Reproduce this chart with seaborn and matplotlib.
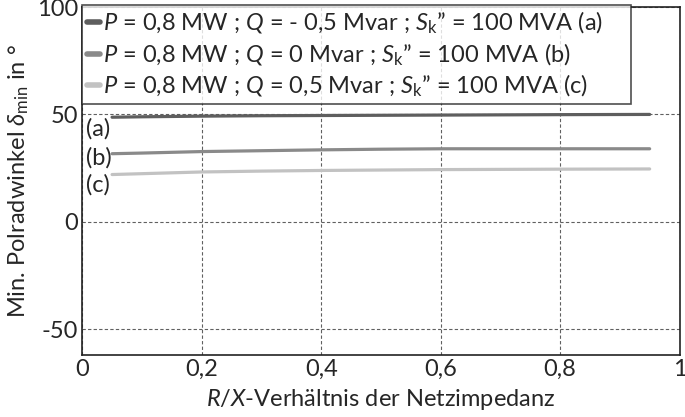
import seaborn as sns
import matplotlib.pyplot as plt
import pandas as pd

# R/X ratio and minimum rotor angle per case
rx = [0.05, 0.1, 0.2, 0.3, 0.4, 0.5, 0.6, 0.7, 0.8, 0.95]
delta_a = [48.7, 48.9, 49.2, 49.4, 49.5, 49.6, 49.7, 49.8, 49.9, 50.0]
delta_b = [31.7, 32.0, 32.7, 33.1, 33.5, 33.8, 34.0, 34.0, 34.0, 34.0]
delta_c = [22.0, 22.4, 23.2, 23.6, 23.9, 24.1, 24.3, 24.4, 24.5, 24.6]

labels = [
    r"$P$ = 0,8 MW ; $Q$ = - 0,5 Mvar ; $S_\mathrm{k}$” = 100 MVA (a)",
    r"$P$ = 0,8 MW ; $Q$ = 0 Mvar ; $S_\mathrm{k}$” = 100 MVA (b)",
    r"$P$ = 0,8 MW ; $Q$ = 0,5 Mvar ; $S_\mathrm{k}$” = 100 MVA (c)",
]
colors = ["#5e5e5e", "#8a8a8a", "#c2c2c2"]
short = ["(a)", "(b)", "(c)"]

xticks = [0, 0.2, 0.4, 0.6, 0.8, 1]
xticklabels = ["0", "0,2", "0,4", "0,6", "0,8", "1"]
yticks = [-50, 0, 50, 100]

df = pd.DataFrame({"rx": rx * 3,
                   "delta": delta_a + delta_b + delta_c,
                   "case": [labels[0]] * len(rx) + [labels[1]] * len(rx) + [labels[2]] * len(rx)})

sns.set_style("white")
plt.rcParams["font.family"] = ["Lato", "DejaVu Sans"]
plt.rcParams["mathtext.fontset"] = "custom"
plt.rcParams["mathtext.rm"] = "Lato"
plt.rcParams["mathtext.it"] = "Lato:italic"
plt.rcParams["axes.unicode_minus"] = False

fs = 17
fig = plt.figure(figsize=(6.85, 4.17), dpi=100)
ax = fig.add_axes([0.12, 0.149, 0.872, 0.834])

sns.lineplot(data=df, x="rx", y="delta", hue="case", palette=colors,
             linewidth=2.3, ax=ax, legend=True)

ax.set_xlim(0, 1)
ax.set_ylim(-62, 100)
ax.set_xticks(xticks)
ax.set_xticklabels(xticklabels)
ax.set_yticks(yticks)
ax.tick_params(labelsize=fs, length=0, pad=3)
ax.grid(True, linestyle=(0, (3, 2)), color="#606060", linewidth=0.8)
for s in ax.spines.values():
    s.set_color("#222222")
    s.set_linewidth(1.2)

for lab, y in zip(short, [43.5, 29.7, 17.3]):
    ax.text(0.006, y, lab, fontsize=fs, va="center", ha="left")

ax.set_xlabel(r"$R$/$X$-Verhältnis der Netzimpedanz", fontsize=fs, labelpad=5)
ax.set_ylabel(r"Min. Polradwinkel $\delta_\mathrm{min}$ in °", fontsize=fs, labelpad=4)

leg = ax.legend(loc="upper left", bbox_to_anchor=(0, 0, 0.918, 1.005), mode="expand",
                fontsize=fs, frameon=True, fancybox=False, edgecolor="#222222",
                handlelength=0.55, handletextpad=0.15, borderpad=0.2, labelspacing=0.22,
                borderaxespad=0, title=None)
leg.get_frame().set_linewidth(1.2)
for h in leg.get_lines():
    h.set_linewidth(4)

fig.savefig("out.png", dpi=100)
